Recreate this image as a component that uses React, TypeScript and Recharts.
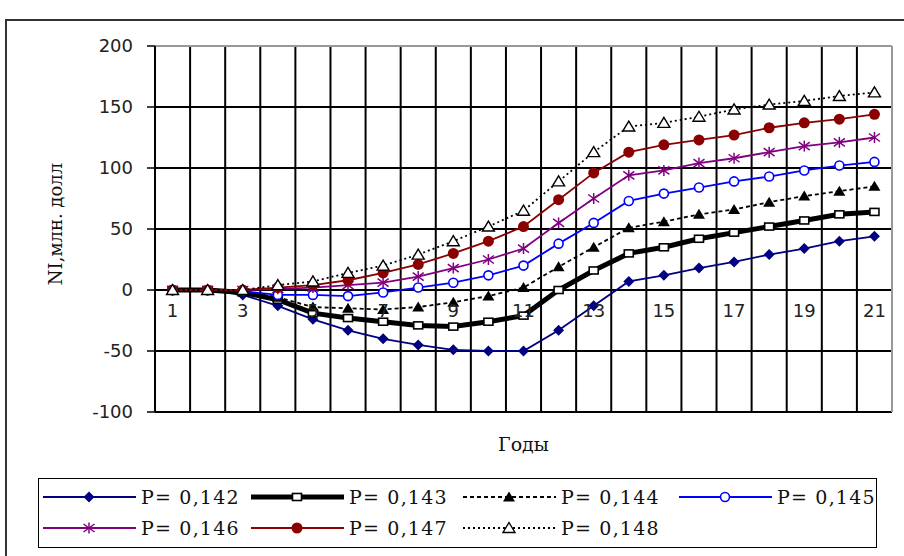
import { LineChart, Line, XAxis, YAxis, CartesianGrid, ReferenceDot, ReferenceLine } from 'recharts'

// years on the category axis
const years = [1, 2, 3, 4, 5, 6, 7, 8, 9, 10, 11, 12, 13, 14, 15, 16, 17, 18, 19, 20, 21]

// NI, million dollars, per value of P
const p142 = [0, 0, -4, -13, -24, -33, -40, -45, -49, -50, -50, -33, -13, 7, 12, 18, 23, 29, 34, 40, 44]
const p143 = [0, 0, -2, -8, -19, -23, -26, -29, -30, -26, -21, 0, 16, 30, 35, 42, 47, 52, 57, 62, 64]
const p144 = [0, 0, -1, -6, -14, -15, -16, -14, -10, -5, 2, 19, 35, 51, 56, 62, 66, 72, 77, 81, 85]
const p145 = [0, 0, -1, -4, -4, -5, -2, 2, 6, 12, 20, 38, 55, 73, 79, 84, 89, 93, 98, 102, 105]
const p146 = [0, 0, 0, 1, 2, 4, 6, 11, 18, 25, 34, 55, 75, 94, 98, 104, 108, 113, 118, 121, 125]
const p147 = [0, 0, 0, 2, 4, 8, 14, 21, 30, 40, 52, 74, 96, 113, 119, 123, 127, 133, 137, 140, 144]
const p148 = [0, 0, 0, 4, 7, 14, 20, 29, 40, 52, 65, 89, 113, 134, 137, 142, 148, 152, 155, 159, 162]

const yTicks = [-100, -50, 0, 50, 100, 150, 200]
const yearLabels = [1, 3, 5, 7, 9, 11, 13, 15, 17, 19, 21]

// vertical gridlines sit between the years
const gridX = [...years.map((y) => y - 0.5), years[years.length - 1] + 0.5]

type MarkerKind = 'diamond' | 'square' | 'triangle' | 'openTriangle' | 'circle' | 'star' | 'dot'

interface SeriesDef {
  key: string
  name: string
  values: number[]
  color: string
  width: number
  dash?: string
  marker: MarkerKind
}

const series: SeriesDef[] = [
  { key: 'p142', name: 'P= 0,142', values: p142, color: '#000080', width: 1.8, marker: 'diamond' },
  { key: 'p143', name: 'P= 0,143', values: p143, color: '#000000', width: 5, marker: 'square' },
  { key: 'p144', name: 'P= 0,144', values: p144, color: '#000000', width: 1.8, dash: '4 3', marker: 'triangle' },
  { key: 'p145', name: 'P= 0,145', values: p145, color: '#0000ff', width: 1.8, marker: 'circle' },
  { key: 'p146', name: 'P= 0,146', values: p146, color: '#800080', width: 1.8, marker: 'star' },
  { key: 'p147', name: 'P= 0,147', values: p147, color: '#8b0000', width: 1.8, marker: 'dot' },
  { key: 'p148', name: 'P= 0,148', values: p148, color: '#000000', width: 1.8, dash: '2 3', marker: 'openTriangle' },
]

const rows = years.map((year, i) => {
  const row: Record<string, number> = { year }
  series.forEach((s) => {
    row[s.key] = s.values[i]
  })
  return row
})

function Marker({ cx, cy, kind, color }: { cx: number; cy: number; kind: MarkerKind; color: string }) {
  switch (kind) {
    case 'diamond':
      return <polygon points={`${cx},${cy - 5.5} ${cx + 5.5},${cy} ${cx},${cy + 5.5} ${cx - 5.5},${cy}`} fill={color} />
    case 'square':
      return <rect x={cx - 4.5} y={cy - 3.5} width={9} height={7} fill="#fff" stroke={color} strokeWidth={1.6} />
    case 'triangle':
      return <polygon points={`${cx},${cy - 5.5} ${cx + 6},${cy + 4.5} ${cx - 6},${cy + 4.5}`} fill={color} />
    case 'openTriangle':
      return (
        <polygon
          points={`${cx},${cy - 5.5} ${cx + 6},${cy + 4.5} ${cx - 6},${cy + 4.5}`}
          fill="#fff"
          stroke={color}
          strokeWidth={1.4}
        />
      )
    case 'circle':
      return <circle cx={cx} cy={cy} r={4.5} fill="#fff" stroke={color} strokeWidth={1.6} />
    case 'star':
      return (
        <g stroke={color} strokeWidth={1.5}>
          <line x1={cx} y1={cy - 5.5} x2={cx} y2={cy + 5.5} />
          <line x1={cx - 5.5} y1={cy - 4} x2={cx + 5.5} y2={cy + 4} />
          <line x1={cx - 5.5} y1={cy + 4} x2={cx + 5.5} y2={cy - 4} />
        </g>
      )
    default:
      return <circle cx={cx} cy={cy} r={5.5} fill={color} />
  }
}

const tickFont = { fill: '#222', fontSize: 18, fontFamily: 'DejaVu Sans' }

export default function App() {
  return (
    <div style={{ position: 'relative', width: 904, height: 556, overflow: 'hidden', background: '#fff' }}>
      <style>{'body{margin:0}'}</style>
      {/* outer frame, open to the right and bottom */}
      <div
        style={{
          position: 'absolute',
          left: 5,
          top: 19,
          width: 920,
          height: 560,
          border: '2px solid #333',
          boxSizing: 'border-box',
        }}
      />
      <LineChart width={904} height={556} data={rows} margin={{ top: 46, right: 12, bottom: 0, left: 0 }}>
        <CartesianGrid stroke="#000" strokeWidth={2} vertical={false} />
        <XAxis
          dataKey="year"
          type="number"
          domain={[0.5, 21.5]}
          tick={false}
          tickLine={false}
          axisLine={false}
          height={144}
          label={{
            value: 'Годы',
            position: 'insideTop',
            offset: 26,
            fill: '#111',
            fontSize: 19,
            fontFamily: 'DejaVu Serif',
          }}
        />
        <YAxis
          type="number"
          domain={[-100, 200]}
          ticks={yTicks}
          interval={0}
          width={155}
          tick={tickFont}
          tickSize={8}
          tickMargin={14}
          tickLine={{ stroke: '#000', strokeWidth: 1.5 }}
          axisLine={{ stroke: '#000', strokeWidth: 2 }}
          label={{
            value: 'NI,млн. долл',
            angle: -90,
            position: 'center',
            dx: -22,
            dy: -5,
            fill: '#111',
            fontSize: 18,
            fontFamily: 'DejaVu Serif',
          }}
        />
        {gridX.map((x, i) => (
          <ReferenceLine
            key={`gx-${x}`}
            x={x}
            stroke={i === gridX.length - 1 ? '#999' : '#000'}
            strokeWidth={2}
          />
        ))}
        <ReferenceLine y={200} stroke="#999" strokeWidth={2} />
        {yearLabels.map((y) => (
          <ReferenceDot
            key={y}
            x={y}
            y={0}
            r={0}
            fill="none"
            stroke="none"
            label={{ value: String(y), position: 'bottom', offset: 14, ...tickFont }}
          />
        ))}
        {series.map((s) => (
          <Line
            key={s.key}
            dataKey={s.key}
            name={s.name}
            type="linear"
            stroke={s.color}
            strokeWidth={s.width}
            strokeDasharray={s.dash}
            isAnimationActive={false}
            activeDot={false}
            dot={(p: any) => <Marker key={`${s.key}-${p.index}`} cx={p.cx} cy={p.cy} kind={s.marker} color={s.color} />}
          />
        ))}
      </LineChart>
      {/* legend */}
      <div
        style={{
          position: 'absolute',
          left: 38,
          top: 478,
          width: 839,
          height: 70,
          border: '1.5px solid #000',
          boxSizing: 'border-box',
        }}
      >
        {series.map((s, i) => (
          <div
            key={s.key}
            style={{
              position: 'absolute',
              left: [4, 212, 424, 640][i % 4],
              top: 5 + Math.floor(i / 4) * 31,
              height: 26,
              display: 'flex',
              alignItems: 'center',
            }}
          >
            <svg width={93} height={20}>
              <line
                x1={0}
                x2={93}
                y1={10}
                y2={10}
                stroke={s.color}
                strokeWidth={s.width}
                strokeDasharray={s.dash}
              />
              <Marker cx={46} cy={10} kind={s.marker} color={s.color} />
            </svg>
            <span
              style={{
                marginLeft: 5,
                fontFamily: 'DejaVu Serif',
                fontSize: 19,
                letterSpacing: 1.2,
                color: '#111',
                whiteSpace: 'nowrap',
              }}
            >
              {s.name}
            </span>
          </div>
        ))}
      </div>
    </div>
  )
}
